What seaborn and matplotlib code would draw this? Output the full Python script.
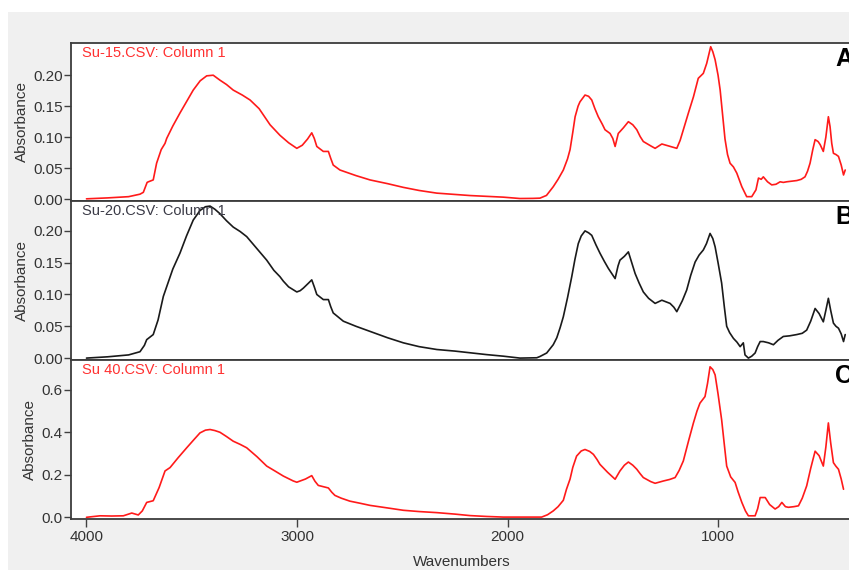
import matplotlib
matplotlib.use("Agg")
import matplotlib.pyplot as plt
from matplotlib.patches import Rectangle
from matplotlib.ticker import FormatStrFormatter
import seaborn as sns
import pandas as pd

# ---- spectra (wavenumber cm-1, absorbance) ----
wn_a = [4000, 3900, 3800, 3746, 3730, 3712, 3706, 3683, 3667, 3645, 3627, 3619, 3590, 3556, 3520,
        3493, 3460, 3429, 3398, 3366, 3335, 3303, 3260, 3223, 3180, 3128, 3081, 3040, 3001, 2975,
        2950, 2930, 2918, 2906, 2875, 2851, 2840, 2828, 2796, 2720, 2653, 2570, 2495, 2420, 2336,
        2250, 2178, 2100, 2020, 1941, 1880, 1846, 1815, 1783, 1760, 1735, 1715, 1703, 1690, 1679,
        1665, 1656, 1632, 1615, 1600, 1585, 1569, 1550, 1537, 1513, 1500, 1489, 1474, 1450, 1426,
        1405, 1386, 1370, 1355, 1320, 1299, 1267, 1236, 1196, 1180, 1165, 1140, 1117, 1094, 1070,
        1054, 1045, 1035, 1025, 1014, 1000, 990, 978, 967, 955, 943, 927, 911, 887, 864,
        840, 820, 808, 795, 785, 765, 745, 725, 705, 690, 674, 650, 626, 605, 587,
        575, 563, 550, 539, 525, 515, 500, 488, 476, 468, 460, 452, 440, 428, 415,
        404, 396]
abs_a = [0.0005, 0.002, 0.004, 0.008, 0.011, 0.027, 0.028, 0.031, 0.058, 0.080, 0.090, 0.098, 0.118, 0.139, 0.160,
         0.176, 0.191, 0.199, 0.200, 0.192, 0.185, 0.176, 0.168, 0.160, 0.146, 0.120, 0.103, 0.091, 0.082, 0.087,
         0.097, 0.107, 0.098, 0.085, 0.077, 0.077, 0.066, 0.055, 0.047, 0.038, 0.031, 0.025, 0.019, 0.014, 0.0097,
         0.0075, 0.0058, 0.0045, 0.0032, 0.001, 0.0012, 0.0016, 0.006, 0.020, 0.032, 0.047, 0.065, 0.080, 0.108, 0.133,
         0.150, 0.157, 0.168, 0.166, 0.160, 0.146, 0.133, 0.121, 0.112, 0.106, 0.098, 0.085, 0.106, 0.115, 0.125,
         0.120, 0.112, 0.101, 0.093, 0.086, 0.082, 0.089, 0.086, 0.082, 0.095, 0.112, 0.140, 0.165, 0.195, 0.203,
         0.219, 0.232, 0.246, 0.238, 0.225, 0.200, 0.176, 0.135, 0.097, 0.072, 0.058, 0.052, 0.042, 0.020, 0.004,
         0.004, 0.015, 0.034, 0.032, 0.036, 0.028, 0.023, 0.024, 0.028, 0.027, 0.028, 0.029, 0.030, 0.032, 0.036,
         0.045, 0.058, 0.080, 0.096, 0.093, 0.088, 0.077, 0.100, 0.133, 0.117, 0.090, 0.074, 0.072, 0.069, 0.055,
         0.039, 0.047]

wn_b = [4000, 3900, 3800, 3746, 3725, 3714, 3683, 3660, 3635, 3619, 3590, 3556, 3525, 3493, 3461,
        3435, 3413, 3390, 3366, 3335, 3303, 3270, 3239, 3190, 3144, 3110, 3081, 3065, 3040, 3001,
        2985, 2970, 2945, 2930, 2918, 2906, 2875, 2851, 2840, 2828, 2780, 2720, 2653, 2570, 2495,
        2420, 2336, 2250, 2178, 2100, 2020, 1941, 1861, 1846, 1814, 1783, 1766, 1750, 1735, 1715,
        1695, 1680, 1664, 1650, 1632, 1615, 1600, 1580, 1561, 1540, 1521, 1505, 1489, 1475, 1466,
        1445, 1426, 1410, 1394, 1375, 1355, 1330, 1299, 1267, 1228, 1210, 1196, 1170, 1149, 1130,
        1109, 1090, 1070, 1055, 1038, 1025, 1014, 1000, 983, 970, 959, 945, 927, 910, 895,
        880, 872, 856, 840, 824, 812, 800, 785, 760, 737, 715, 690, 660, 626, 600,
        579, 560, 539, 520, 500, 488, 476, 465, 452, 440, 428, 415, 404, 396]
abs_b = [0.000, 0.002, 0.005, 0.010, 0.020, 0.029, 0.037, 0.060, 0.097, 0.112, 0.140, 0.165, 0.192, 0.217, 0.232,
         0.238, 0.239, 0.234, 0.227, 0.216, 0.206, 0.199, 0.191, 0.172, 0.154, 0.138, 0.128, 0.121, 0.112, 0.104,
         0.106, 0.110, 0.118, 0.123, 0.112, 0.100, 0.092, 0.092, 0.081, 0.071, 0.058, 0.050, 0.042, 0.032, 0.024,
         0.018, 0.0135, 0.011, 0.0083, 0.0055, 0.003, 0.000, 0.0005, 0.0025, 0.008, 0.021, 0.032, 0.048, 0.065, 0.095,
         0.128, 0.155, 0.180, 0.192, 0.200, 0.197, 0.193, 0.178, 0.165, 0.152, 0.141, 0.133, 0.125, 0.145, 0.154,
         0.160, 0.167, 0.150, 0.133, 0.118, 0.104, 0.094, 0.086, 0.091, 0.086, 0.080, 0.073, 0.090, 0.107, 0.130,
         0.151, 0.162, 0.170, 0.180, 0.196, 0.188, 0.175, 0.150, 0.118, 0.080, 0.050, 0.040, 0.031, 0.025, 0.018,
         0.024, 0.005, 0.000, 0.003, 0.008, 0.018, 0.026, 0.026, 0.024, 0.021, 0.028, 0.034, 0.035, 0.037, 0.039,
         0.044, 0.058, 0.078, 0.070, 0.057, 0.075, 0.094, 0.075, 0.055, 0.050, 0.047, 0.038, 0.026, 0.037]

wn_c = [4000, 3936, 3880, 3825, 3785, 3754, 3735, 3714, 3683, 3655, 3627, 3603, 3565, 3524, 3490,
        3461, 3435, 3413, 3390, 3366, 3335, 3303, 3270, 3239, 3190, 3144, 3100, 3065, 3018, 3001,
        2960, 2930, 2915, 2899, 2851, 2835, 2820, 2790, 2749, 2700, 2653, 2570, 2495, 2420, 2336,
        2250, 2178, 2100, 2020, 1940, 1838, 1810, 1783, 1760, 1735, 1720, 1703, 1690, 1672, 1650,
        1632, 1610, 1592, 1575, 1561, 1525, 1489, 1466, 1445, 1426, 1405, 1386, 1370, 1355, 1320,
        1299, 1259, 1230, 1204, 1185, 1165, 1140, 1117, 1100, 1086, 1062, 1050, 1038, 1025, 1014,
        1000, 983, 970, 959, 940, 919, 905, 887, 870, 856, 824, 812, 800, 776, 755,
        729, 712, 697, 680, 666, 640, 618, 600, 579, 560, 539, 520, 500, 488, 476,
        465, 452, 440, 428, 415, 404]
abs_c = [0.000, 0.007, 0.006, 0.007, 0.020, 0.011, 0.030, 0.070, 0.078, 0.140, 0.218, 0.234, 0.280, 0.327, 0.365,
         0.397, 0.410, 0.413, 0.408, 0.400, 0.380, 0.358, 0.343, 0.327, 0.285, 0.241, 0.215, 0.194, 0.171, 0.165,
         0.180, 0.196, 0.170, 0.150, 0.138, 0.118, 0.103, 0.090, 0.076, 0.066, 0.056, 0.044, 0.033, 0.027, 0.022,
         0.015, 0.008, 0.004, 0.001, 0.001, 0.001, 0.012, 0.030, 0.050, 0.080, 0.132, 0.180, 0.235, 0.288, 0.312,
         0.319, 0.310, 0.296, 0.272, 0.249, 0.212, 0.179, 0.218, 0.245, 0.260, 0.245, 0.226, 0.205, 0.187, 0.168,
         0.160, 0.171, 0.178, 0.187, 0.220, 0.265, 0.360, 0.444, 0.500, 0.537, 0.568, 0.630, 0.708, 0.695, 0.670,
         0.580, 0.459, 0.340, 0.241, 0.190, 0.164, 0.120, 0.070, 0.030, 0.007, 0.007, 0.040, 0.093, 0.093, 0.060,
         0.039, 0.050, 0.070, 0.050, 0.047, 0.050, 0.054, 0.090, 0.148, 0.230, 0.311, 0.290, 0.241, 0.330, 0.444,
         0.350, 0.257, 0.240, 0.226, 0.180, 0.132]

titles = ["Su-15.CSV: Column 1", "Su-20.CSV: Column 1", "Su 40.CSV: Column 1"]
letters = ["A", "B", "C"]
line_colors = ["#ff1a1a", "#1a1a1a", "#ff1a1a"]
title_colors = ["#ff3030", "#3a3a46", "#ff3030"]
y_ticks = [[0.0, 0.05, 0.10, 0.15, 0.20], [0.0, 0.05, 0.10, 0.15, 0.20], [0.0, 0.2, 0.4, 0.6]]
y_limits = [(-0.003, 0.252), (-0.003, 0.247), (-0.008, 0.74)]
y_formats = ["%.2f", "%.2f", "%.1f"]
x_ticks = [4000, 3000, 2000, 1000]

sns.set_style("white")
plt.rcParams["font.family"] = ["Liberation Sans", "DejaVu Sans"]

W, H = 849, 573
fig = plt.figure(figsize=(W / 100, H / 100), dpi=100)
fig.patch.set_facecolor("white")
fig.patches.append(Rectangle((8 / W, 1 - 570 / H), 1, (570 - 12) / H,
                             transform=fig.transFigure, facecolor="#f0f0f0",
                             edgecolor="none", zorder=-10))

left = 71 / W
width = (853 - 71) / W
panel_px = [(43, 201), (201, 360), (360, 519)]

spectra = [(wn_a, abs_a), (wn_b, abs_b), (wn_c, abs_c)]
for i, ((wn, ab), (top, bot)) in enumerate(zip(spectra, panel_px)):
    ax = fig.add_axes([left, 1 - bot / H, width, (bot - top) / H])
    ax.set_facecolor("white")
    df = pd.DataFrame({"Wavenumbers": wn, "Absorbance": ab})
    sns.lineplot(data=df, x="Wavenumbers", y="Absorbance", ax=ax,
                 color=line_colors[i], lw=1.2, estimator=None, sort=True)
    ax.set_xlim(4073.6, 359)
    ax.set_ylim(*y_limits[i])
    ax.set_yticks(y_ticks[i])
    ax.yaxis.set_major_formatter(FormatStrFormatter(y_formats[i]))
    ax.tick_params(axis="y", direction="out", length=5, width=1, color="#404040",
                   pad=1, labelsize=11, labelcolor="#333333", left=True)
    ax.set_ylabel("Absorbance", fontsize=11, color="#333333", labelpad=3)
    for s in ax.spines.values():
        s.set_color("#3c3c3c")
        s.set_linewidth(1.3)
    if i < 2:
        ax.set_xticks([])
        ax.set_xlabel("")
    else:
        ax.set_xticks(x_ticks)
        ax.set_xticklabels([str(t) for t in x_ticks])
        ax.tick_params(axis="x", direction="out", length=6, width=1, color="#404040",
                       pad=2, labelsize=11, labelcolor="#333333", bottom=True)
        ax.set_xlabel("Wavenumbers", fontsize=11, color="#333333", labelpad=8)
    ax.text(11.5 / (853 - 71), 1 - 3 / (bot - top), titles[i], transform=ax.transAxes,
            ha="left", va="top", fontsize=10.5, color=title_colors[i])
    ax.text(835 / W, 1 - (top + 4) / H, letters[i], transform=fig.transFigure,
            ha="left", va="top", fontsize=18, fontweight="bold", color="black")

fig.savefig("out.png", dpi=100, facecolor=fig.get_facecolor())
